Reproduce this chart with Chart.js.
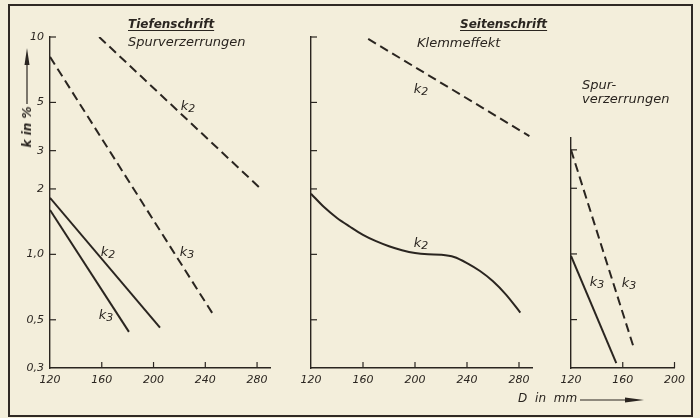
<!DOCTYPE html>
<html lang="de">
<head>
<meta charset="UTF-8">
<title>Klirrfaktor k über Durchmesser D</title>
<script src="https://cdn.jsdelivr.net/npm/chart.js"></script>
<style>
  html, body { margin: 0; padding: 0; background: #f3eedb; }
  .sheet { position: relative; width: 700px; height: 418px; overflow: hidden; background: #f3eedb; color: #2a2520;
           font-family: 'DejaVu Sans', sans-serif; font-style: italic; }
  .frame { position: absolute; left: 8px; top: 4px; width: 685px; height: 413px; box-sizing: border-box; border: 2px solid #2f2924; }
  canvas { position: absolute; top: 0; }
  .t { position: absolute; font-size: 13px; line-height: 14px; white-space: nowrap; transform: translateY(-50%); }
  .head { font-size: 12px; font-weight: bold; text-decoration: underline; text-underline-offset: 2px; }
  .k { position: absolute; font-size: 13px; line-height: 14px; white-space: nowrap; transform: translate(-50%, -50%); }
  .k span { font-size: 11px; position: relative; top: 2px; }
  .ytitle { position: absolute; left: 27px; top: 127px; font-size: 12px; font-weight: bold; white-space: nowrap; transform: translate(-50%, -50%) rotate(-90deg); }
  .xtitle { position: absolute; left: 518px; top: 398px; font-size: 12px; word-spacing: 4px; white-space: nowrap; transform: translateY(-50%); }
  svg { position: absolute; left: 0; top: 0; }
</style>
</head>
<body>
<div class="sheet">
  <div class="frame"></div>
  <canvas id="tief" width="290" height="418" style="left:0"></canvas>
  <canvas id="seit" width="290" height="418" style="left:261px"></canvas>
  <canvas id="spur" width="160" height="418" style="left:531px"></canvas>

  <div class="t head" style="left:128px; top:24px">Tiefenschrift</div>
  <div class="t" style="left:128px; top:42px">Spurverzerrungen</div>
  <div class="k" style="left:188px; top:106px">k<span>2</span></div>
  <div class="k" style="left:187px; top:252px">k<span>3</span></div>
  <div class="k" style="left:108px; top:252px">k<span>2</span></div>
  <div class="k" style="left:106px; top:315px">k<span>3</span></div>

  <div class="t head" style="left:460px; top:24px">Seitenschrift</div>
  <div class="t" style="left:417px; top:43px">Klemmeffekt</div>
  <div class="k" style="left:421px; top:89px">k<span>2</span></div>
  <div class="k" style="left:421px; top:243px">k<span>2</span></div>

  <div class="t" style="left:582px; top:85px">Spur-</div>
  <div class="t" style="left:582px; top:99px">verzerrungen</div>
  <div class="k" style="left:597px; top:282px">k<span>3</span></div>
  <div class="k" style="left:629px; top:283px">k<span>3</span></div>

  <div class="ytitle">k in %</div>
  <div class="xtitle">D in mm</div>
  <svg width="700" height="418">
    <line x1="27" y1="104" x2="27" y2="60" stroke="#2a2520" stroke-width="1.2"/>
    <polygon points="27,48 24.5,65 29.5,65" fill="#2a2520"/>
    <line x1="580" y1="400" x2="630" y2="400" stroke="#2a2520" stroke-width="1.2"/>
    <polygon points="644,400 625,397.5 625,402.5" fill="#2a2520"/>
  </svg>
</div>

<script>
// Durchmesser D in mm, Klirrfaktor k in %
const yTickValues = [0.3, 0.5, 1, 2, 3, 5, 10];
const yTickLabels = ['0,3', '0,5', '1,0', '2', '3', '5', '10'];
const xTicksWide = [120, 160, 200, 240, 280];
const xTicksNarrow = [120, 160, 200];

// Tiefenschrift - Spurverzerrungen
const tiefK2DashD = [158, 283];
const tiefK2DashK = [10, 2];
const tiefK3DashD = [120, 246];
const tiefK3DashK = [8.1, 0.53];
const tiefK2D = [120, 205];
const tiefK2K = [1.82, 0.46];
const tiefK3D = [120, 181];
const tiefK3K = [1.6, 0.44];

// Seitenschrift - Klemmeffekt
const seitK2DashD = [164, 288];
const seitK2DashK = [9.8, 3.5];
const seitK2D = [120, 130, 140, 150, 160, 170, 180, 190, 200, 210, 220, 230, 240, 250, 260, 270, 281];
const seitK2K = [1.9, 1.65, 1.47, 1.34, 1.23, 1.15, 1.09, 1.045, 1.014, 1.0, 0.995, 0.973, 0.912, 0.838, 0.752, 0.653, 0.54];

// Seitenschrift - Spurverzerrungen
const spurK3DashD = [120, 168];
const spurK3DashK = [3.0, 0.38];
const spurK3D = [120, 155];
const spurK3K = [0.98, 0.316];

const ink = '#2a2520';
const tickFont = { family: "'DejaVu Sans', sans-serif", size: 11, style: 'italic' };

function line(d, k, dashed, smooth) {
  return {
    data: d.map((v, i) => ({ x: v, y: k[i] })),
    borderColor: ink,
    borderWidth: 2,
    borderDash: dashed ? [9, 5] : [],
    pointRadius: 0,
    tension: 0,
    cubicInterpolationMode: smooth ? 'monotone' : 'default',
    fill: false
  };
}

// kurze Teilstriche nach innen
const innerTicks = {
  id: 'innerTicks',
  afterDraw(chart) {
    const { ctx, chartArea: a, scales: { x, y } } = chart;
    ctx.save();
    ctx.strokeStyle = ink;
    ctx.lineWidth = 1.2;
    y.ticks.forEach(t => {
      if (t.value === y.min) return;
      const py = y.getPixelForValue(t.value);
      ctx.beginPath(); ctx.moveTo(a.left, py); ctx.lineTo(a.left + 6, py); ctx.stroke();
    });
    x.ticks.forEach(t => {
      if (t.value === x.min) return;
      const px = x.getPixelForValue(t.value);
      ctx.beginPath(); ctx.moveTo(px, a.bottom); ctx.lineTo(px, a.bottom - 6); ctx.stroke();
    });
    ctx.restore();
  }
};

function makeChart(id, o) {
  return new Chart(document.getElementById(id), {
    type: 'line',
    data: { datasets: o.datasets },
    options: {
      responsive: false,
      animation: false,
      events: [],
      layout: { padding: { top: o.padTop, right: o.padRight, left: 0, bottom: 0 } },
      plugins: { legend: { display: false }, tooltip: { enabled: false } },
      scales: {
        x: {
          type: 'linear', min: 120, max: o.xMax, bounds: 'data',
          afterBuildTicks: s => { s.ticks = o.xTicks.map(v => ({ value: v })); },
          afterFit: s => { s.height = 50; },
          grid: { display: false, drawTicks: false },
          border: { display: true, color: ink, width: 1.4 },
          ticks: { color: ink, padding: 6, maxRotation: 0, autoSkip: false, font: tickFont }
        },
        y: {
          type: 'logarithmic', min: o.yMin, max: o.yMax, bounds: 'data',
          afterBuildTicks: s => { s.ticks = yTickValues.filter(v => v >= o.yMin && v <= o.yMax).map(v => ({ value: v })); },
          afterFit: s => { s.width = o.yWidth; },
          grid: { display: false, drawTicks: false },
          border: { display: true, color: ink, width: 1.4 },
          ticks: {
            display: o.yLabels, color: ink, padding: 6, autoSkip: false, font: tickFont,
            callback: v => yTickLabels[yTickValues.indexOf(v)]
          }
        }
      }
    },
    plugins: [innerTicks]
  });
}

makeChart('tief', {
  xMax: 290, xTicks: xTicksWide, yMin: 0.3, yMax: 10, yLabels: true,
  padTop: 37, padRight: 20, yWidth: 50,
  datasets: [
    line(tiefK2DashD, tiefK2DashK, true),
    line(tiefK3DashD, tiefK3DashK, true),
    line(tiefK2D, tiefK2K, false),
    line(tiefK3D, tiefK3K, false)
  ]
});

makeChart('seit', {
  xMax: 290, xTicks: xTicksWide, yMin: 0.3, yMax: 10, yLabels: false,
  padTop: 37, padRight: 19, yWidth: 50,
  datasets: [
    line(seitK2DashD, seitK2DashK, true),
    line(seitK2D, seitK2K, false, true)
  ]
});

makeChart('spur', {
  xMax: 200, xTicks: xTicksNarrow, yMin: 0.3, yMax: 3.4, yLabels: false,
  padTop: 138, padRight: 16, yWidth: 40,
  datasets: [
    line(spurK3DashD, spurK3DashK, true),
    line(spurK3D, spurK3K, false)
  ]
});
</script>
</body>
</html>
